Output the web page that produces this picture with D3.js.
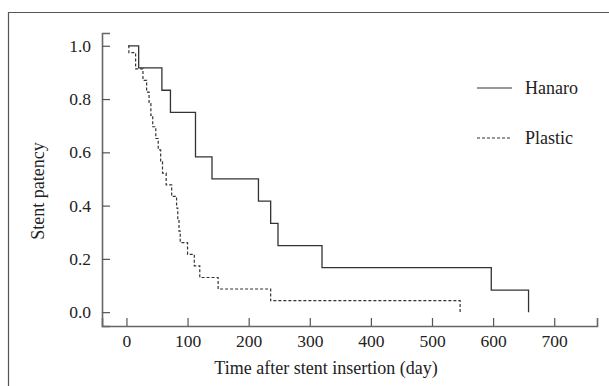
<!DOCTYPE html>
<html>
<head>
<meta charset="utf-8">
<script src="https://cdn.jsdelivr.net/npm/d3@7"></script>
<style>
  body { margin: 0; background: #fff; }
  svg text { font-family: "Liberation Serif", "DejaVu Serif", serif; fill: #222; }
</style>
</head>
<body>
<div id="chart"></div>
<script>
// Hanaro group: drop times (day) and survival after each drop
var hanaroStart = 3;
var hanaroTimes = [20, 58, 72, 113, 140, 216, 236, 248, 320, 597, 658];
var hanaroValues = [0.917, 0.833, 0.75, 0.583, 0.5, 0.417, 0.333, 0.25, 0.167, 0.083, 0.0];

// Plastic group
var plasticStart = 3;
var plasticTimes = [4, 15, 27, 33, 37, 40, 43, 48, 52, 56, 59, 65, 74, 82, 84, 86, 88, 100, 111, 120, 150, 236, 546];
var plasticValues = [0.974, 0.913, 0.870, 0.826, 0.783, 0.739, 0.696, 0.652, 0.609, 0.565, 0.522, 0.478,
  0.435, 0.391, 0.348, 0.304, 0.261, 0.217, 0.174, 0.130, 0.087, 0.043, 0.0];

var xTicks = [0, 100, 200, 300, 400, 500, 600, 700];
var yTicks = [0.0, 0.2, 0.4, 0.6, 0.8, 1.0];

var width = 609, height = 386;

var svg = d3.select('#chart').append('svg')
  .attr('width', width)
  .attr('height', height);

// outer frame (only top and left edges show)
svg.append('path')
  .attr('d', 'M8.5,' + height + 'V12.5H' + width)
  .attr('fill', 'none')
  .attr('stroke', '#555')
  .attr('stroke-width', 1.2);

var x = d3.scaleLinear().domain([-40, 770]).range([102, 597]);
var y = d3.scaleLinear().domain([-0.052, 1.048]).range([326, 33]);

// axes with inward ticks
var xAxis = svg.append('g')
  .attr('transform', 'translate(0,' + y.range()[0] + ')')
  .call(d3.axisBottom(x).tickValues(xTicks).tickSize(-8).tickPadding(9).tickFormat(d3.format('d')));
var yAxis = svg.append('g')
  .attr('transform', 'translate(' + x.range()[0] + ',0)')
  .call(d3.axisLeft(y).tickValues(yTicks).tickSize(-8).tickPadding(11).tickFormat(d3.format('.1f')));

[xAxis, yAxis].forEach(function(g) {
  g.select('.domain').attr('stroke', '#666').attr('stroke-width', 1.6);
  g.selectAll('.tick line').attr('stroke', '#555').attr('stroke-width', 1.2);
  g.selectAll('.tick text').attr('font-size', 17.5).attr('fill', '#222')
    .style('font-family', '"Liberation Serif", serif');
});

// step path builder
function stepPoints(start, times, values) {
  var pts = [[start, 1.0]];
  times.forEach(function(t, i) { pts.push([t, values[i]]); });
  return pts;
}
var line = d3.line()
  .x(function(d) { return x(d[0]); })
  .y(function(d) { return y(d[1]); })
  .curve(d3.curveStepAfter);

svg.append('path')
  .datum(stepPoints(hanaroStart, hanaroTimes, hanaroValues))
  .attr('d', line)
  .attr('fill', 'none')
  .attr('stroke', '#333')
  .attr('stroke-width', 1.3);

svg.append('path')
  .datum(stepPoints(plasticStart, plasticTimes, plasticValues))
  .attr('d', line)
  .attr('fill', 'none')
  .attr('stroke', '#333')
  .attr('stroke-width', 1.2)
  .attr('stroke-dasharray', '3,2');

// axis titles
svg.append('text')
  .attr('x', 326).attr('y', 374)
  .attr('text-anchor', 'middle')
  .attr('font-size', 18)
  .text('Time after stent insertion (day)');

svg.append('text')
  .attr('transform', 'translate(44,191) rotate(-90)')
  .attr('text-anchor', 'middle')
  .attr('font-size', 18)
  .text('Stent patency');

// legend
var legend = [{label: 'Hanaro', dash: null, y: 88}, {label: 'Plastic', dash: '3,2', y: 138}];
legend.forEach(function(d) {
  svg.append('line')
    .attr('x1', 477).attr('x2', 512)
    .attr('y1', d.y).attr('y2', d.y)
    .attr('stroke', '#333')
    .attr('stroke-width', 1.2)
    .attr('stroke-dasharray', d.dash);
  svg.append('text')
    .attr('x', 525).attr('y', d.y)
    .attr('dy', '0.35em')
    .attr('font-size', 18)
    .text(d.label);
});
</script>
</body>
</html>
